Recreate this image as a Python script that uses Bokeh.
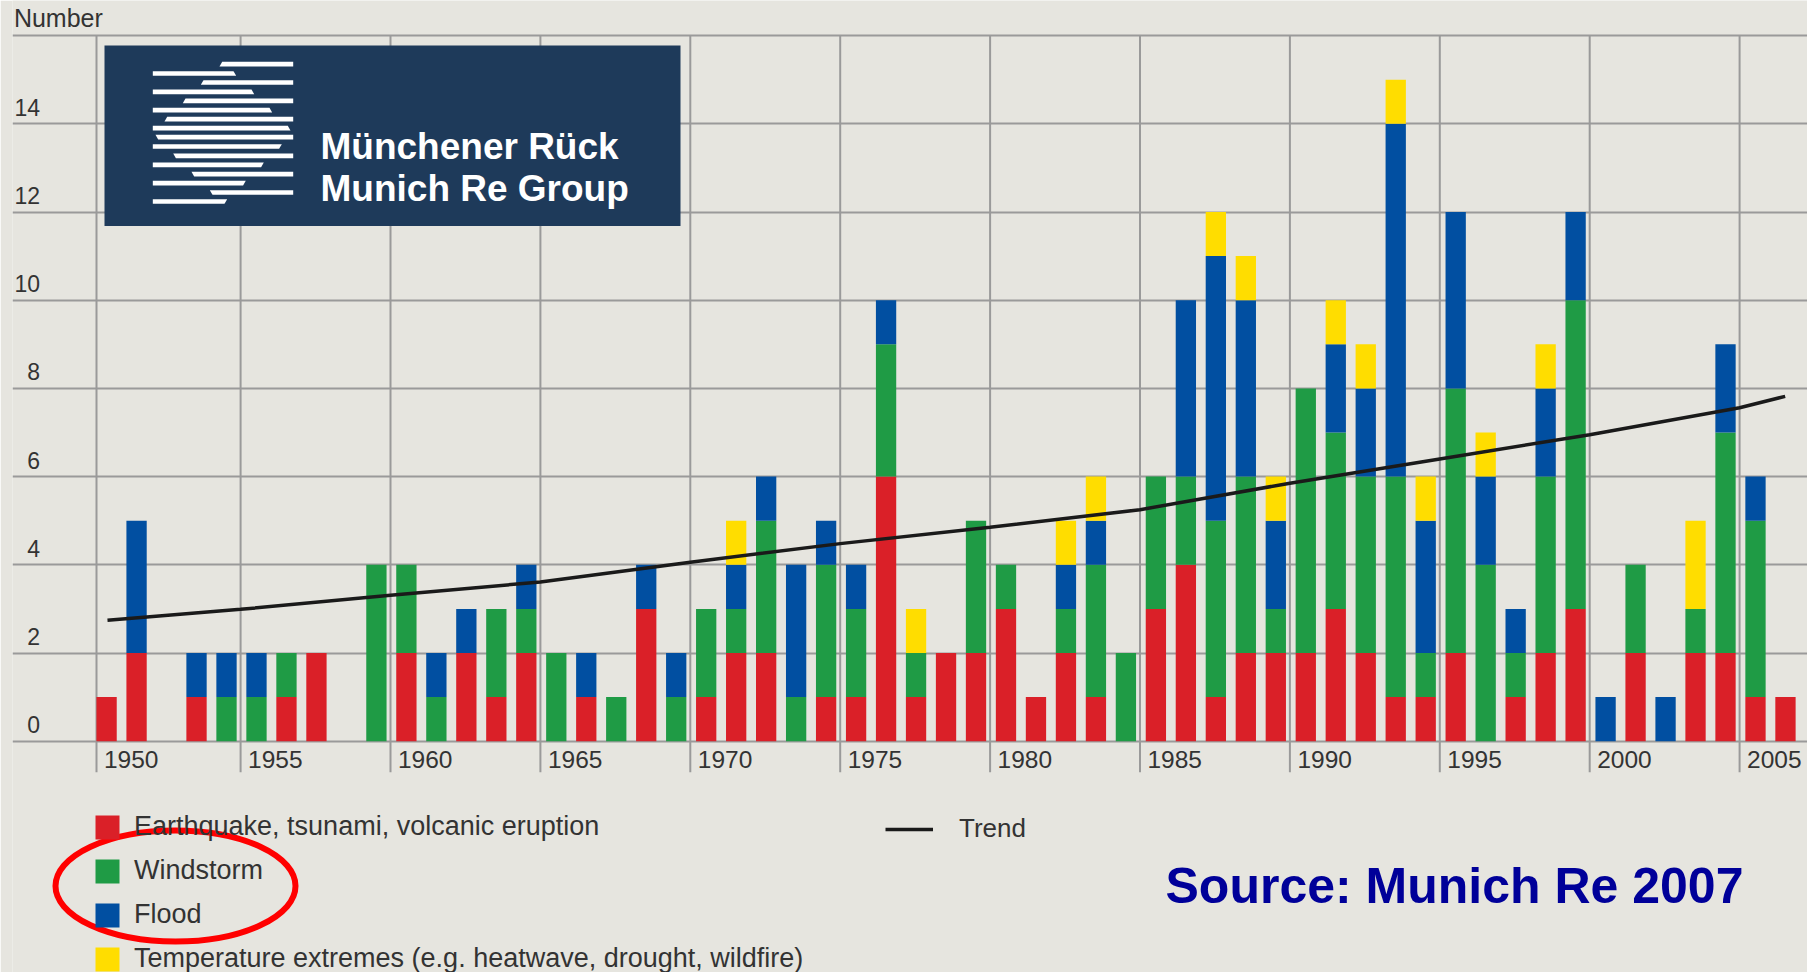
from bokeh.plotting import figure
from bokeh.models import ColumnDataSource, Grid, FixedTicker, Legend, LegendItem
from bokeh.core.properties import value
from bokeh.embed import file_html
from bokeh.resources import INLINE

# ---------------- data ----------------
years = list(range(1950, 2007))
quake = [1, 2, 0, 1, 0, 0, 1, 2, 0, 0,
         2, 0, 2, 1, 2, 0, 1, 0, 3, 0,
         1, 2, 2, 0, 1, 1, 6, 1, 2, 2,
         3, 1, 2, 1, 0, 3, 4, 1, 2, 2,
         2, 3, 2, 1, 1, 2, 0, 1, 2, 3,
         0, 2, 0, 2, 2, 1, 1]
wind = [0, 0, 0, 0, 1, 1, 1, 0, 0, 4,
        2, 1, 0, 2, 1, 2, 0, 1, 0, 1,
        2, 1, 3, 1, 3, 2, 3, 1, 0, 3,
        1, 0, 1, 3, 2, 3, 2, 4, 4, 1,
        6, 4, 4, 5, 1, 6, 4, 1, 4, 7,
        0, 2, 0, 1, 5, 4, 0]
flood = [0, 3, 0, 1, 1, 1, 0, 0, 0, 0,
         0, 1, 1, 0, 1, 0, 1, 0, 1, 1,
         0, 1, 1, 3, 1, 1, 1, 0, 0, 0,
         0, 0, 1, 1, 0, 0, 4, 6, 4, 2,
         0, 2, 2, 8, 3, 4, 2, 1, 2, 2,
         1, 0, 1, 0, 2, 1, 0]
temp = [0, 0, 0, 0, 0, 0, 0, 0, 0, 0,
        0, 0, 0, 0, 0, 0, 0, 0, 0, 0,
        0, 1, 0, 0, 0, 0, 0, 1, 0, 0,
        0, 0, 1, 1, 0, 0, 0, 1, 1, 1,
        0, 1, 1, 1, 1, 0, 1, 0, 1, 0,
        0, 0, 0, 2, 0, 0, 0]

trend_years = [1950.56, 1955, 1960, 1965, 1970, 1975, 1980, 1985, 1990, 1995, 2000, 2005, 2006.52]
trend_vals = [2.74, 2.99, 3.31, 3.61, 4.06, 4.48, 4.85, 5.25, 5.85, 6.40, 6.95, 7.56, 7.82]

categories = ["quake", "wind", "flood", "temp"]
category_labels = ["Earthquake, tsunami, volcanic eruption", "Windstorm", "Flood",
                   "Temperature extremes (e.g. heatwave, drought, wildfire)"]
year_ticks = list(range(1950, 2006, 5))
year_tick_labels = [str(y) for y in year_ticks]
value_ticks = list(range(0, 17, 2))
value_tick_labels = [str(v) for v in range(0, 15, 2)]

# ---------------- style / layout ----------------
BG = "#e6e5df"
GRID = "#9a9a9a"
TXT = "#333333"
COLORS = ["#da2028", "#1f9b45", "#014fa1", "#ffdd00"]
FONT = "Liberation Sans"

FIG_W, FIG_H = 1807, 972
FRAME_LEFT = 12
PAGE_X_1950, PX_YR = 90.2, 29.98      # px of the 1950 grid line, px per year
PAGE_Y_0, PX_UNIT = 740.7, 44.1       # px of the 0 line, px per unit


def X(px):
    return 1950 + (px - PAGE_X_1950) / PX_YR


def Y(py):
    return (PAGE_Y_0 - py) / PX_UNIT


def TY(baseline_px, size):
    # y for a text glyph whose baseline should sit at baseline_px
    return Y(baseline_px - (4 + 0.28 * size))


AXIS_LEFT = X(96)          # the first vertical line sits at the first bar's left edge
grid_x = [max(t, AXIS_LEFT) for t in year_ticks]

p = figure(width=FIG_W, height=FIG_H, output_backend="svg", toolbar_location=None,
           x_range=(X(FRAME_LEFT), X(FIG_W)), y_range=(Y(FIG_H), Y(0)),
           x_axis_location=None, y_axis_location=None,
           min_border_left=FRAME_LEFT, min_border_right=0, min_border_top=0, min_border_bottom=0)
p.background_fill_color = BG
p.border_fill_color = BG
p.outline_line_color = None
for g in p.grid:
    g.visible = False

# horizontal grid lines
p.add_layout(Grid(dimension=1, ticker=FixedTicker(ticks=value_ticks),
                  grid_line_color=GRID, grid_line_width=2))
# vertical grid lines (stop at the top line, reach below the 0 line)
p.segment(x0=grid_x, x1=grid_x, y0=Y(771.7), y1=value_ticks[-1],
          line_color=GRID, line_width=2)

# stacked bars
src = ColumnDataSource(dict(xc=[y + 0.53 for y in years], quake=quake, wind=wind,
                            flood=flood, temp=temp))
bars = p.vbar_stack(categories, x="xc", width=0.677, fill_color=COLORS,
                    line_color=None, source=src)

# trend
trend = p.line(trend_years, trend_vals, line_color="#1a1a1a", line_width=3.5)

# tick labels
p.text(x=[X(39.5)] * len(value_tick_labels),
       y=[TY(PAGE_Y_0 - v * PX_UNIT - 6, 23) for v in value_ticks[:len(value_tick_labels)]],
       text=value_tick_labels, text_align="right", text_baseline="alphabetic",
       text_font=value(FONT), text_font_size="23px", text_color=TXT)
p.text(x=[gx + 0.25 for gx in grid_x], y=[TY(770, 24.5)] * len(year_ticks), text=year_tick_labels,
       text_align="left", text_baseline="alphabetic",
       text_font=value(FONT), text_font_size="24.5px", text_color=TXT)
p.text(x=[X(13.4)], y=[TY(28.3, 25)], text=["Number"], text_align="left", text_baseline="alphabetic",
       text_font=value(FONT), text_font_size="25px", text_color=TXT)

# logo
p.quad(left=X(104), right=X(680), top=Y(45), bottom=Y(225.5), fill_color="#1e3a5a", line_color=None)
stripes = [(63.7, 219.0, 292.7, "R"), (73.0, 152.3, 235.7, "L"), (82.0, 200.3, 292.7, "R"),
           (91.3, 152.3, 253.7, "L"), (100.3, 182.3, 292.7, "R"), (109.7, 152.3, 271.7, "L"),
           (118.7, 164.0, 292.7, "R"), (127.7, 152.3, 290.0, "L"), (136.7, 155.0, 292.7, "R"),
           (146.0, 152.3, 281.3, "L"), (155.3, 172.7, 292.7, "R"), (164.3, 152.3, 263.3, "L"),
           (173.7, 191.0, 292.7, "R"), (182.7, 152.3, 245.3, "L"), (192.0, 209.3, 292.7, "R"),
           (201.0, 152.3, 226.7, "L")]
sx, sy = [], []
s, h = 2.7, 2.35
for i, (yc, xl, xr, side) in enumerate(stripes):
    upper = i < 8
    if side == "R":
        tl, bl = (xl + s, xl) if upper else (xl, xl + s)
        tr, br = xr, xr
    else:
        tl, bl = xl, xl
        tr, br = (xr - s, xr) if upper else (xr, xr - s)
    sx.append([X(tl), X(tr), X(br), X(bl)])
    sy.append([Y(yc - h), Y(yc - h), Y(yc + h), Y(yc + h)])
p.patches(sx, sy, fill_color="white", line_color=None)
p.text(x=[X(320), X(320)], y=[TY(160.7, 37), TY(202.7, 37)], text=["Münchener Rück", "Munich Re Group"],
       text_align="left", text_baseline="alphabetic", text_font=value(FONT),
       text_font_style="bold", text_font_size="37px", text_color="white")

# legends (locations: px from the frame's left / bottom edge)
leg1 = Legend(items=[LegendItem(label=lab, renderers=[r]) for lab, r in zip(category_labels, bars)],
              location=(92 - FRAME_LEFT, FIG_H - 974.2), orientation="vertical",
              glyph_width=30, glyph_height=30,
              label_height=30, spacing=13, label_standoff=12, padding=0, margin=0,
              border_line_color=None, background_fill_alpha=0,
              label_text_font=FONT, label_text_font_size="27px", label_text_color=TXT)
leg2 = Legend(items=[LegendItem(label="Trend", renderers=[trend])],
              location=(885 - FRAME_LEFT, FIG_H - 844), glyph_width=48, glyph_height=30,
              label_height=30, label_standoff=26, padding=0, margin=0, border_line_color=None,
              background_fill_alpha=0, label_text_font=FONT, label_text_font_size="26px",
              label_text_color=TXT)
p.add_layout(leg1, "center")
p.add_layout(leg2, "center")

# highlight ellipse
p.ellipse(x=[X(175)], y=[Y(885.5)], width=240, height=111, width_units="screen",
          height_units="screen", fill_color=None, line_color="#ff0000", line_width=6,
          level="overlay")

# source note
p.text(x=[X(1165)], y=[TY(903.3, 50)], text=["Source: Munich Re 2007"], text_align="left",
       text_baseline="alphabetic", text_font=value(FONT), text_font_style="bold",
       text_font_size="50px", text_color="#000099")

html = file_html(p, INLINE)
html = html.replace("<body>", '<body style="background-color:%s;">' % BG, 1)
open("out.html", "w").write(html)
